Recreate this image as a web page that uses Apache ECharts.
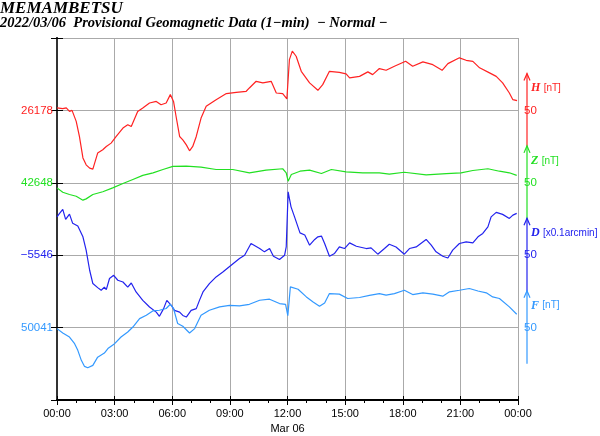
<!DOCTYPE html>
<html><head><meta charset="utf-8">
<script src="https://cdn.jsdelivr.net/npm/echarts@6/dist/echarts.min.js"></script>
<style>html,body{margin:0;padding:0;background:#fff}#c{width:600px;height:436px}</style>
</head><body><div id="c"></div>
<script>
// ---- data (minutes since 00:00, values) ----
const hTime=[0,18,29,39,47,60,70,81,91,102,112,127,143,154,169,185,206,221,232,252,268,289,310,325,341,354,364,372,383,393,404,414,424,435,450,466,497,529,560,591,601,622,643,669,685,705,718,722,726,735,747,763,789,815,830,851,882,903,914,945,971,986,1007,1028,1054,1089,1111,1143,1174,1203,1221,1257,1278,1299,1320,1351,1372,1392,1413,1424,1437];
const hVal=[26179.7,26179.2,26179.7,26177.3,26178,26170.4,26160,26145.2,26140.4,26138.1,26137.4,26148.5,26150.8,26153.1,26155.4,26160,26165.8,26168.1,26166.9,26177.3,26179.7,26183.1,26184.2,26181.9,26183.1,26188.9,26184.2,26173.8,26160,26157.7,26154.2,26150.1,26153.1,26160,26172.7,26180.8,26185.4,26189.6,26190.5,26191.2,26193.5,26198.1,26197,26198.1,26190,26189.6,26185.9,26185.4,26213.1,26218.9,26215.4,26205,26197,26191.9,26195.8,26205,26204.3,26203.2,26200.4,26201.5,26204.6,26202.7,26206.9,26205.7,26208.5,26211.9,26208.5,26211.5,26209.6,26205.7,26210.3,26214.3,26212.6,26211.9,26207.4,26203.9,26201.5,26197,26190,26185.4,26184.7];
const zTime=[0,18,39,60,81,91,112,143,174,206,237,268,300,331,362,404,450,497,549,601,653,705,716,722,732,759,789,826,857,903,955,1007,1038,1085,1153,1216,1262,1299,1346,1382,1413,1436];
const zVal=[42644.5,42641.5,42639.9,42638.7,42636,42636.9,42639.9,42641.8,42644.5,42647.5,42650.3,42653.1,42654.9,42657.2,42659.3,42659.5,42658.8,42657.2,42657.2,42654.9,42656.7,42657.7,42654.9,42649.1,42653.7,42656,42656.7,42654.4,42657.2,42655.6,42654.9,42654.9,42654,42655.3,42653.5,42654.4,42654.9,42656.5,42657.7,42656,42654.9,42653.1];
const dTime=[0,8,18,27,39,49,65,81,91,102,112,127,138,148,154,164,177,190,206,221,232,247,268,289,310,320,333,343,357,367,383,393,404,419,435,445,456,476,497,518,544,570,586,606,633,648,664,676,695,711,716,722,731,742,759,774,789,805,815,826,836,851,867,882,898,914,935,966,981,1002,1023,1038,1059,1085,1101,1122,1153,1169,1184,1205,1221,1236,1257,1278,1299,1315,1330,1346,1356,1372,1392,1413,1424,1436];
const dVal=[-5519.5,-5517.1,-5514.4,-5521.3,-5517.6,-5524,-5525.9,-5533.3,-5542.5,-5556.4,-5565.6,-5568.4,-5570.2,-5568,-5569.8,-5562.1,-5559.9,-5563.3,-5564.5,-5568,-5565.2,-5571.4,-5577.2,-5581.8,-5585.3,-5588.2,-5582.9,-5577.2,-5580.6,-5584.1,-5585.3,-5587.6,-5588.7,-5584.1,-5582.9,-5577.2,-5571.4,-5565.6,-5561,-5557.6,-5552.9,-5548.3,-5546,-5537.9,-5541.4,-5543.7,-5541.4,-5546.7,-5549,-5546,-5540.3,-5502.2,-5512.6,-5519.5,-5530.6,-5532.1,-5539.1,-5535.1,-5533.3,-5532.8,-5537.9,-5546.7,-5544.8,-5540.3,-5541.4,-5537.5,-5539.8,-5541.4,-5540.9,-5545.3,-5541.4,-5538.4,-5540.3,-5545.3,-5541.4,-5540.3,-5535.1,-5539.1,-5543.7,-5546.7,-5547.9,-5542.5,-5537.9,-5536.8,-5537.5,-5533.3,-5531,-5526.4,-5519.5,-5516.4,-5517.8,-5520.6,-5518.3,-5517.1];
const fTime=[0,18,39,55,65,76,86,96,112,127,148,159,180,200,221,237,258,279,299,320,341,354,364,377,393,414,430,450,476,508,539,570,601,633,664,695,714,721,729,732,753,779,800,820,836,851,882,908,945,976,1007,1028,1054,1085,1111,1143,1174,1205,1226,1257,1288,1315,1341,1361,1382,1413,1436];
const fVal=[50040.3,50037.3,50034.5,50029.9,50025.3,50018.4,50014.2,50013.3,50014.9,50020.6,50023.4,50026.5,50029.9,50034.5,50038,50041.4,50047.2,50049.5,50052.5,50053,50054.2,50057.1,50054.2,50043.8,50041.9,50037.3,50040.3,50049.5,50053,50055.3,50056.4,50056,50057.1,50059.9,50060.6,50057.6,50057.1,50049.2,50069.1,50069.6,50067.5,50062.2,50058.7,50055.7,50058,50064.5,50064.1,50061.1,50061.8,50063.2,50064.5,50063.4,50064.5,50066.8,50063.8,50065,50064.1,50062.7,50065.7,50066.8,50068,50066.3,50065,50062.2,50061.1,50055.3,50050.2];

const baseValues=[26178,42648,-5546,50041];
const compNames=['H','Z','D','F'];
const compUnits=['[nT]','[nT]','[x0.1arcmin]','[nT]'];
const scaleLabel='50';
const xTickLabels=['00:00','03:00','06:00','09:00','12:00','15:00','18:00','21:00','00:00'];
const dateLabel='Mar 06';
const titleLine1='MEMAMBETSU';
const titleLine2='2022/03/06  Provisional Geomagnetic Data (1\u2212min)  \u2212 Normal \u2212';

const colors=['#ff2222','#22e022','#2222ee','#3399ff'];
const levels=[200,150,100,50]; // display band positions (units of nT in 250-unit window)
const SPAN=250;

const chart=echarts.init(document.getElementById('c'),null,{renderer:'canvas'});
const sans='Liberation Sans, Arial, sans-serif';
const serif='Liberation Serif, Times New Roman, serif';

const rich={};
colors.forEach((c,i)=>{rich['c'+i]={color:c,fontSize:11.5,fontFamily:sans};});

const fmtLeft=v=>{const i=levels.indexOf(v);if(i<0)return '';const b=baseValues[i];return '{c'+i+'|'+(b<0?'\u2212'+Math.abs(b):b)+'}';};
const fmtRight=v=>{const i=levels.indexOf(v);if(i<0)return '';return '{c'+i+'|'+scaleLabel+'}';};

const yAxes=[
 {type:'value',min:0,max:SPAN,interval:50,position:'left',
  axisLine:{show:true,lineStyle:{color:'#000',width:2}},
  axisTick:{show:true,length:6,lineStyle:{color:'#000'}},
  axisLabel:{formatter:fmtLeft,rich:rich,margin:4},
  splitLine:{show:true,lineStyle:{color:'#aaa',width:1}}},
 {type:'value',min:0,max:SPAN,interval:50,position:'right',
  axisLine:{show:true,lineStyle:{color:'#333',width:2}},
  axisTick:{show:true,length:6,lineStyle:{color:'#000'}},
  axisLabel:{formatter:fmtRight,rich:rich,margin:6},
  splitLine:{show:false}}
];
baseValues.forEach((b,i)=>{
 yAxes.push({type:'value',show:false,min:b-levels[i],max:b-levels[i]+SPAN,splitLine:{show:false}});
});

const series=[[hTime,hVal],[zTime,zVal],[dTime,dVal],[fTime,fVal]].map((p,i)=>({
 type:'line',yAxisIndex:i+2,showSymbol:false,symbol:'none',animation:false,
 lineStyle:{color:colors[i],width:1.2},
 data:p[0].map((t,k)=>[t,p[1][k]])
}));

chart.setOption({
 animation:false,
 grid:{left:57,right:82,top:38,bottom:36},
 xAxis:[
  {type:'value',min:0,max:1440,interval:180,position:'bottom',
   axisLine:{show:true,lineStyle:{color:'#000',width:2}},
   axisTick:{show:true,length:5,lineStyle:{color:'#000'}},
   minorTick:{show:true,splitNumber:3,length:3,lineStyle:{color:'#000'}},
   axisLabel:{color:'#000',fontSize:11,fontFamily:sans,margin:6,lineHeight:15,
     formatter:v=>{const l=xTickLabels[Math.round(v/180)];return v===720?l+'\n'+dateLabel:l;}},
   splitLine:{show:true,lineStyle:{color:'#aaa',width:1}}},
  {type:'value',min:0,max:1440,interval:180,position:'top',
   axisLine:{show:false},axisTick:{show:true,length:4,lineStyle:{color:'#000'}},
   axisLabel:{show:false},splitLine:{show:false}}
 ],
 yAxis:yAxes,
 series:series
});

// title and right-side component arrows and labels
const g=[];
g.push({type:'text',left:0,top:0,style:{text:titleLine1,font:'italic bold 17px '+serif,fill:'#000'}});
g.push({type:'text',left:0,top:16,style:{text:titleLine2,font:'italic bold 14.5px '+serif,fill:'#000'}});
const xr=chart.convertToPixel({xAxisIndex:0},1440)+9;
baseValues.forEach((b,i)=>{
 const yTop=chart.convertToPixel({yAxisIndex:i+2},b+25.5);
 const yBot=chart.convertToPixel({yAxisIndex:i+2},b-25);
 const yMid=chart.convertToPixel({yAxisIndex:i+2},b);
 g.push({type:'line',shape:{x1:xr,y1:yBot,x2:xr,y2:yTop},style:{stroke:colors[i],lineWidth:1.2}});
 g.push({type:'polyline',shape:{points:[[xr-3,yTop+7],[xr,yTop],[xr+3,yTop+7]]},style:{stroke:colors[i],lineWidth:1.2,fill:null}});
 g.push({type:'text',x:xr+4,y:yMid-22,style:{text:'{n|'+compNames[i]+'} {u|'+compUnits[i]+'}',verticalAlign:'middle',
   rich:{n:{font:'italic bold 12px '+serif,fill:colors[i]},u:{font:'10px '+sans,fill:colors[i]}}}});
});
chart.setOption({graphic:g});
</script>
</body></html>
